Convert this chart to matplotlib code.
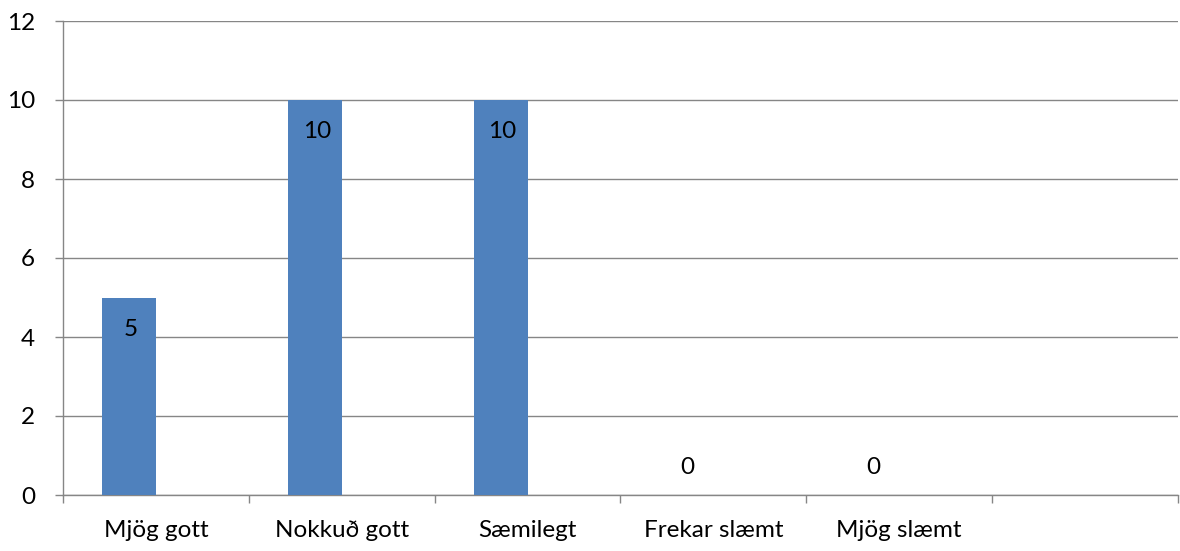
import matplotlib
matplotlib.use("Agg")
import matplotlib.pyplot as plt
import numpy as np

categories = ["Mjög gott", "Nokkuð gott", "Sæmilegt", "Frekar slæmt", "Mjög slæmt", ""]
values = [5, 10, 10, 0, 0, None]
y_ticks = [0, 2, 4, 6, 8, 10, 12]

plt.rcParams['font.family'] = ['Lato', 'DejaVu Sans']
FS = 17.5

fig = plt.figure(figsize=(11.8, 5.51), dpi=100)
ax = fig.add_axes([63/1180, 1 - 495/551, (1178 - 63)/1180, (495 - 21)/551])

x = np.arange(len(categories))
bar_w = 0.29
offset = -0.145
grid_c = "#868686"

for i, v in enumerate(values):
    if v is None:
        continue
    ax.bar(x[i] + offset, v, width=bar_w, color="#4F81BD", zorder=3)
    if v > 0:
        ax.annotate(str(v), (x[i] + offset, v), xytext=(2, -32), textcoords="offset pixels",
                    ha="center", va="center", fontsize=FS, color="black", zorder=4)
    else:
        ax.annotate(str(v), (x[i] + offset, v), xytext=(1, 27), textcoords="offset pixels",
                    ha="center", va="center", fontsize=FS, color="black", zorder=4)

ax.set_xlim(-0.5, len(categories) - 0.5)
ax.set_ylim(0, 12)
ax.set_yticks(y_ticks)
ax.set_yticklabels([str(t) for t in y_ticks], fontsize=FS)
ax.yaxis.grid(True, color=grid_c, linewidth=1.0, zorder=0)
ax.set_axisbelow(True)

ax.set_xticks(np.arange(-0.5, len(categories)), minor=False)
ax.set_xticklabels([])
ax.set_xticks(x, minor=True)
ax.set_xticklabels(categories, minor=True, fontsize=FS)
ax.tick_params(axis="x", which="minor", length=0, pad=18)
ax.tick_params(axis="x", which="major", length=6, color=grid_c, width=1)
ax.tick_params(axis="y", length=6, color=grid_c, width=1, pad=14)

for s in ["top", "right"]:
    ax.spines[s].set_visible(False)
for s in ["left", "bottom"]:
    ax.spines[s].set_color(grid_c)
    ax.spines[s].set_linewidth(1.0)

fig.savefig("out.png", dpi=100, facecolor="white")
